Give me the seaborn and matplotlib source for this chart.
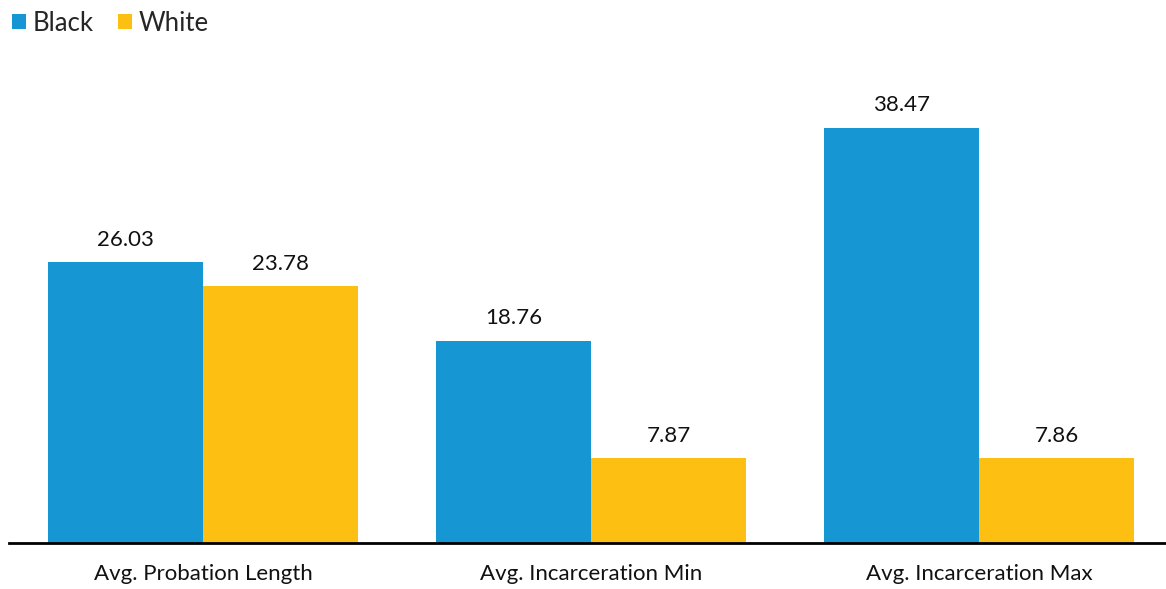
import matplotlib
matplotlib.use("Agg")
import matplotlib.pyplot as plt
from matplotlib.patches import Patch
import seaborn as sns
import pandas as pd

categories = ["Avg. Probation Length", "Avg. Incarceration Min", "Avg. Incarceration Max"]
groups = ["Black", "White"]
black_values = [26.03, 18.76, 38.47]
white_values = [23.78, 7.87, 7.86]
colors = ["#1696d2", "#fdbf11"]

rows = []
for c, b, w in zip(categories, black_values, white_values):
    rows.append({"category": c, "group": "Black", "value": b})
    rows.append({"category": c, "group": "White", "value": w})
df = pd.DataFrame(rows)

sns.set_style("white")
plt.rcParams["font.family"] = ["Lato", "DejaVu Sans"]

W, H = 1166, 589
fig = plt.figure(figsize=(W / 100, H / 100), dpi=100)
ax = fig.add_axes([9 / W, (H - 543) / H, (W - 9) / W, (543 - 60) / H])

sns.barplot(data=df, x="category", y="value", hue="group", order=categories,
            hue_order=groups, palette=colors, width=0.8, saturation=1,
            errorbar=None, ax=ax, linewidth=0)

ax.set_xlim(-0.5, -0.5 + (W - 9) / 388)
ax.set_ylim(0, (543 - 60) / 10.79)

for cont in ax.containers:
    ax.bar_label(cont, labels=[f"{v:.2f}" for v in cont.datavalues],
                 padding=9, fontsize=16, color="#111111")

ax.legend_.remove()
ax.set_xlabel("")
ax.set_ylabel("")
ax.set_yticks([])
for s in ["top", "right", "left"]:
    ax.spines[s].set_visible(False)
ax.spines["bottom"].set_color("black")
ax.spines["bottom"].set_linewidth(2)
ax.tick_params(axis="x", length=0, pad=15, labelsize=16, labelcolor="#111111")

handles = [Patch(facecolor=c, edgecolor="none") for c in colors]
fig.legend(handles, groups, loc="upper left", bbox_to_anchor=(4 / W, 1 - 3 / H),
           ncol=2, frameon=False, fontsize=18.5, handlelength=0.55,
           handleheight=0.55, handletextpad=0.25, columnspacing=0.95,
           borderaxespad=0.0, borderpad=0.3)

fig.savefig("out.png", dpi=100)
